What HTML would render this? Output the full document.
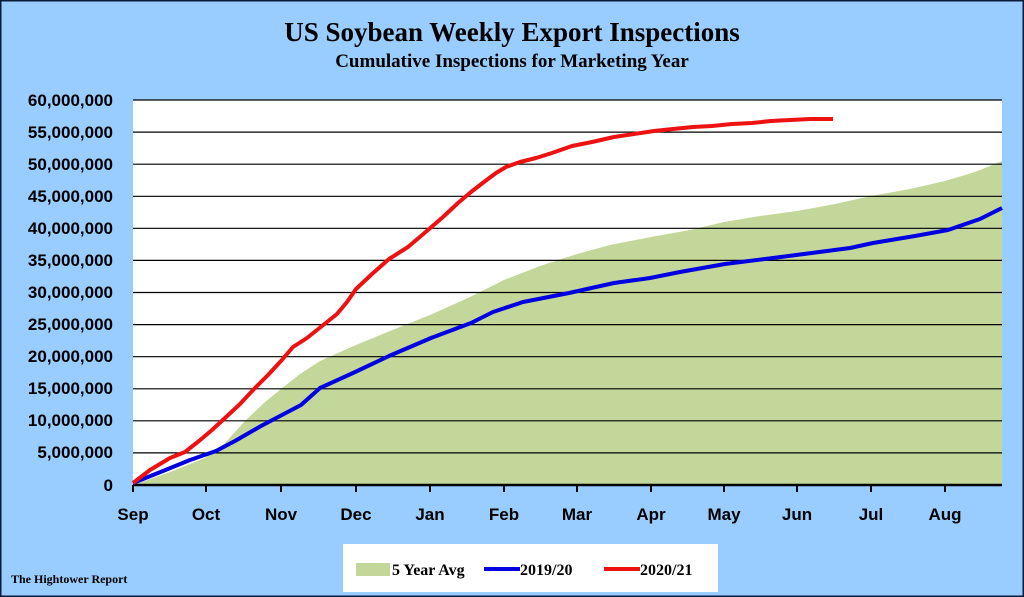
<!DOCTYPE html>
<html><head><meta charset="utf-8"><style>
html,body{margin:0;padding:0;background:#99ccff;}
svg{display:block;}
</style></head><body>
<svg width="1024" height="597" viewBox="0 0 1024 597" xmlns="http://www.w3.org/2000/svg">
<rect x="0" y="0" width="1024" height="597" fill="#99ccff" stroke="#0a1a3a" stroke-width="3"/>
<text x="512" y="41" text-anchor="middle" font-family="Liberation Serif, serif" font-weight="bold" font-size="27" fill="#000">US Soybean Weekly Export Inspections</text>
<text x="512" y="67" text-anchor="middle" font-family="Liberation Serif, serif" font-weight="bold" font-size="19" fill="#000">Cumulative  Inspections for Marketing Year</text>
<rect x="133" y="100" width="869" height="385" fill="#fff"/>
<polygon fill="#c4d79b" points="133,485 170,472 205,458 225,443 245,421 265,402 281,389 300,374 320,361 356,345 390,331 430,315 470,297 504,280 540,266 577,254 610,245 651,237 690,230 724,222 760,216 797,211 835,204 871,196 910,189 945,181 975,172 1002,161 1002,485"/>
<g stroke="#000" stroke-width="1.2">
<line x1="133" y1="100" x2="1002" y2="100"/><line x1="133" y1="132.1" x2="1002" y2="132.1"/><line x1="133" y1="164.2" x2="1002" y2="164.2"/><line x1="133" y1="196.3" x2="1002" y2="196.3"/><line x1="133" y1="228.3" x2="1002" y2="228.3"/><line x1="133" y1="260.4" x2="1002" y2="260.4"/><line x1="133" y1="292.5" x2="1002" y2="292.5"/><line x1="133" y1="324.6" x2="1002" y2="324.6"/><line x1="133" y1="356.7" x2="1002" y2="356.7"/><line x1="133" y1="388.8" x2="1002" y2="388.8"/><line x1="133" y1="420.8" x2="1002" y2="420.8"/><line x1="133" y1="452.9" x2="1002" y2="452.9"/>
</g>
<line x1="133" y1="485" x2="1002" y2="485" stroke="#000" stroke-width="2.5"/>
<g stroke="#000" stroke-width="2">
<line x1="133" y1="485" x2="133" y2="492"/><line x1="206" y1="485" x2="206" y2="492"/><line x1="281" y1="485" x2="281" y2="492"/><line x1="356" y1="485" x2="356" y2="492"/><line x1="430" y1="485" x2="430" y2="492"/><line x1="504" y1="485" x2="504" y2="492"/><line x1="577" y1="485" x2="577" y2="492"/><line x1="651" y1="485" x2="651" y2="492"/><line x1="724" y1="485" x2="724" y2="492"/><line x1="797" y1="485" x2="797" y2="492"/><line x1="871" y1="485" x2="871" y2="492"/><line x1="945" y1="485" x2="945" y2="492"/>
</g>
<polyline fill="none" stroke="#0000e0" stroke-width="4" stroke-linejoin="round" points="133,483 163,471 190,460 216,451 235,441 261,426 301,405 320,388 353,373 389,356 431,338 471,323 493,312 523,302 569,293 614,283 650,278 680,272 725,264 765,259 804,254 850,248 873,243 915,236 948,230 980,219 1002,208"/>
<polyline fill="none" stroke="#ee1111" stroke-width="4" stroke-linejoin="round" points="133,483 150,470 170,458 185,452 199,441 212,430 225,418 240,404 255,388 268,375 281,361 293,347 307,338 322,326 337,314 347,302 356,289 372,274 389,259 408,247 428,230 443,217 458,203 471,192 484,182 496,173 506,167 520,162 536,158 552,153 572,146 592,142 614,137 634,134 654,131 673,129 693,127 712,126 732,124 752,123 771,121 790,120 810,119 833,119"/>
<g font-family="Liberation Sans, sans-serif" font-weight="bold" font-size="17" fill="#000" text-anchor="end">
<text x="113" y="106">60,000,000</text><text x="113" y="138">55,000,000</text><text x="113" y="170">50,000,000</text><text x="113" y="202">45,000,000</text><text x="113" y="234">40,000,000</text><text x="113" y="266">35,000,000</text><text x="113" y="298">30,000,000</text><text x="113" y="330">25,000,000</text><text x="113" y="362">20,000,000</text><text x="113" y="394">15,000,000</text><text x="113" y="426">10,000,000</text><text x="113" y="458">5,000,000</text><text x="113" y="491">0</text>
</g>
<g font-family="Liberation Sans, sans-serif" font-weight="bold" font-size="17" fill="#000" text-anchor="middle">
<text x="133" y="520">Sep</text><text x="206" y="520">Oct</text><text x="281" y="520">Nov</text><text x="356" y="520">Dec</text><text x="430" y="520">Jan</text><text x="504" y="520">Feb</text><text x="577" y="520">Mar</text><text x="651" y="520">Apr</text><text x="724" y="520">May</text><text x="797" y="520">Jun</text><text x="871" y="520">Jul</text><text x="945" y="520">Aug</text>
</g>
<rect x="343" y="544" width="375" height="48" fill="#fff"/>
<rect x="356" y="563" width="34" height="13" fill="#c4d79b"/>
<text x="392" y="575" font-family="Liberation Serif, serif" font-weight="bold" font-size="16" fill="#000">5 Year Avg</text>
<line x1="484" y1="569" x2="520" y2="569" stroke="#0000e0" stroke-width="4"/>
<text x="520" y="575" font-family="Liberation Serif, serif" font-weight="bold" font-size="16" fill="#000">2019/20</text>
<line x1="604" y1="569" x2="640" y2="569" stroke="#ee1111" stroke-width="4"/>
<text x="640" y="575" font-family="Liberation Serif, serif" font-weight="bold" font-size="16" fill="#000">2020/21</text>
<text x="11" y="583" font-family="Liberation Serif, serif" font-weight="bold" font-size="12" fill="#000">The Hightower Report</text>
</svg>
</body></html>
